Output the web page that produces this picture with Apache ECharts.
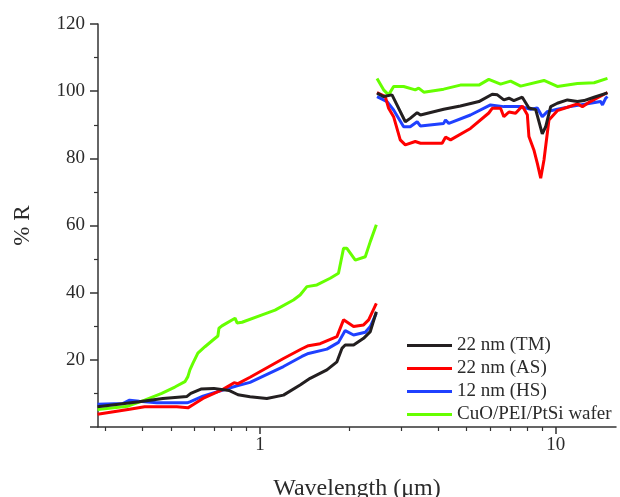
<!DOCTYPE html>
<html>
<head>
<meta charset="utf-8">
<script src="https://cdn.jsdelivr.net/npm/echarts@6/dist/echarts.min.js"></script>
<style>
html,body{margin:0;padding:0;background:#fff;}
#chart{width:620px;height:497px;}
</style>
</head>
<body>
<div id="chart"></div>
<script>
// ---- Data (wavelength in µm, reflectance in %) ----
const seriesNames = ['22 nm (TM)', '22 nm (AS)', '12 nm (HS)', 'CuO/PEI/PtSi wafer'];
const seriesColors = ['#231f20', '#ff0000', '#1f40ff', '#66ff00'];

const tmVis = [[0.282,6.0],[0.39,7.5],[0.469,8.5],[0.566,9.1],[0.583,10.0],[0.631,11.3],[0.698,11.5],[0.785,10.9],[0.842,9.6],[0.925,9.0],[1.054,8.5],[1.20,9.5],[1.366,12.5],[1.477,14.5],[1.683,17.0],[1.82,19.4],[1.892,23.4],[1.941,24.4],[2.072,24.4],[2.24,26.4],[2.36,28.4],[2.474,34.3]];
const tmIr = [[2.487,99.4],[2.618,98.4],[2.795,98.9],[3.10,90.9],[3.22,91.9],[3.40,93.6],[3.49,92.9],[4.18,94.6],[4.76,95.6],[5.50,96.9],[6.10,99.1],[6.35,98.9],[6.68,97.4],[6.95,97.9],[7.22,97.2],[7.71,98.2],[8.12,95.0],[8.56,94.5],[9.01,87.3],[9.25,89.4],[9.62,95.4],[10.13,96.4],[10.96,97.4],[11.85,96.9],[12.47,97.2],[13.49,98.2],[14.97,99.5]];

const asVis = [[0.282,3.8],[0.362,5.3],[0.407,6.0],[0.523,6.0],[0.570,5.7],[0.593,6.6],[0.641,8.5],[0.749,11.2],[0.817,13.2],[0.842,12.9],[0.925,14.8],[1.20,20.4],[1.385,23.3],[1.458,24.2],[1.597,24.8],[1.82,26.9],[1.916,31.9],[2.072,29.9],[2.24,30.4],[2.33,31.9],[2.474,36.8]];
const asIr = [[2.487,99.6],[2.653,98.4],[2.722,94.9],[2.83,92.4],[2.98,85.5],[3.10,84.0],[3.35,85.0],[3.49,84.5],[4.13,84.5],[4.24,86.3],[4.41,85.5],[5.15,88.9],[5.94,93.5],[6.10,94.9],[6.51,94.9],[6.68,92.4],[6.95,93.8],[7.32,93.4],[7.71,95.6],[8.02,93.0],[8.12,86.5],[8.44,82.5],[8.67,78.5],[8.90,74.1],[9.13,79.5],[9.49,91.4],[10.13,94.2],[10.96,95.2],[11.85,96.2],[12.32,95.4],[13.1,96.9],[14.97,99.6]];

const hsVis = [[0.282,6.8],[0.343,7.0],[0.362,8.0],[0.39,7.7],[0.447,7.2],[0.566,7.2],[0.579,7.5],[0.641,9.2],[0.749,11.0],[0.836,12.3],[0.842,12.0],[0.925,13.3],[1.20,18.0],[1.385,21.0],[1.458,21.9],[1.683,23.2],[1.842,25.2],[1.941,28.7],[2.072,27.4],[2.27,28.2],[2.36,29.9],[2.474,33.9]];
const hsIr = [[2.487,98.4],[2.69,96.9],[2.83,94.4],[3.06,89.4],[3.22,89.4],[3.40,90.9],[3.49,89.6],[4.18,90.4],[4.24,91.4],[4.35,90.4],[5.15,92.9],[6.02,95.9],[6.68,95.4],[7.61,95.4],[8.23,94.6],[8.67,95.0],[9.01,92.4],[9.37,93.9],[10.13,94.6],[11.2,95.4],[13.1,96.4],[14.2,96.9],[14.4,95.9],[14.77,97.9],[14.97,98.4]];

const wfVis = [[0.282,5.2],[0.357,6.2],[0.407,8.0],[0.465,10.0],[0.515,11.9],[0.557,13.5],[0.570,15.0],[0.579,17.0],[0.593,19.0],[0.616,22.0],[0.651,23.9],[0.693,25.9],[0.720,27.1],[0.726,29.4],[0.743,30.1],[0.823,32.4],[0.836,31.0],[0.869,31.2],[1.016,33.4],[1.124,34.8],[1.297,37.8],[1.366,39.3],[1.44,41.8],[1.557,42.3],[1.727,44.3],[1.842,45.8],[1.916,53.2],[1.967,53.2],[2.10,49.7],[2.27,50.7],[2.36,55.2],[2.474,60.2]];
const wfIr = [[2.487,103.8],[2.618,100.4],[2.722,98.9],[2.83,101.4],[3.06,101.4],[3.35,100.4],[3.44,100.9],[3.58,99.7],[4.18,100.6],[4.76,101.8],[5.50,101.8],[5.94,103.5],[6.51,102.1],[7.04,103.0],[7.61,101.5],[9.13,103.2],[10.13,101.4],[11.85,102.3],[13.49,102.5],[14.97,103.8]];

const xMajorTicks = [1, 10];
const xMinorTicks = [0.3,0.4,0.5,0.6,0.7,0.8,0.9,2,3,4,5,6,7,8,9];
const X_MIN = 0.283, X_MAX = 16;
const Y_MIN = 0, Y_MAX = 120, Y_STEP = 20;

const segments = [[tmVis, tmIr], [asVis, asIr], [hsVis, hsIr], [wfVis, wfIr]];

const FONT = 'Liberation Serif';
const TXT = '#2b2b2b';

const chart = echarts.init(document.getElementById('chart'), null, {renderer: 'canvas'});

const series = seriesNames.map((name, i) => ({
  name: name,
  type: 'line',
  xAxisIndex: 0,
  yAxisIndex: 0,
  showSymbol: false,
  symbol: 'none',
  connectNulls: false,
  lineStyle: {color: seriesColors[i], width: 3},
  itemStyle: {color: seriesColors[i]},
  data: segments[i][0].concat([[2.48, '-']], segments[i][1]),
  z: 10 - i
}));

chart.setOption({
  animation: false,
  backgroundColor: '#fff',
  grid: {left: 98, right: 4, top: 24, bottom: 70, containLabel: false, outerBoundsMode: 'none'},
  legend: {
    orient: 'vertical',
    left: 407, top: 336,
    padding: 0,
    itemWidth: 45, itemHeight: 3, itemGap: 4,
    icon: 'rect',
    data: seriesNames,
    textStyle: {fontFamily: FONT, fontSize: 19, color: TXT, lineHeight: 19},
    selectedMode: false
  },
  xAxis: [
    {
      type: 'log', min: X_MIN, max: X_MAX, position: 'bottom',
      name: 'Wavelength (\u03bcm)', nameLocation: 'middle', nameGap: 50,
      nameTextStyle: {fontFamily: FONT, fontSize: 24, color: TXT},
      axisLine: {show: true, lineStyle: {color: '#333', width: 1.5}},
      axisTick: {show: true, customValues: xMajorTicks, length: 7, lineStyle: {color: '#333', width: 1.5}},
      axisLabel: {show: true, customValues: xMajorTicks, fontFamily: FONT, fontSize: 19, color: TXT, margin: 9,
                  formatter: v => String(Math.round(v))},
      minorTick: {show: false}, splitLine: {show: false}
    },
    {
      type: 'log', min: X_MIN, max: X_MAX, position: 'bottom',
      axisLine: {show: false},
      axisTick: {show: true, customValues: xMinorTicks, length: 4, lineStyle: {color: '#333', width: 1.2}},
      axisLabel: {show: false},
      minorTick: {show: false}, splitLine: {show: false}
    }
  ],
  yAxis: {
    type: 'value', min: Y_MIN, max: Y_MAX, interval: Y_STEP,
    name: '% R', nameLocation: 'middle', nameGap: 64,
    nameTextStyle: {fontFamily: FONT, fontSize: 23, color: TXT},
    axisLine: {show: true, lineStyle: {color: '#333', width: 1.5}},
    axisTick: {show: true, length: 8, lineStyle: {color: '#333', width: 1.5}},
    minorTick: {show: true, splitNumber: 2, length: 4, lineStyle: {color: '#333', width: 1.2}},
    axisLabel: {fontFamily: FONT, fontSize: 19, color: TXT, margin: 13, showMinLabel: false},
    splitLine: {show: false}, minorSplitLine: {show: false}
  },
  series: series
});
</script>
</body>
</html>
